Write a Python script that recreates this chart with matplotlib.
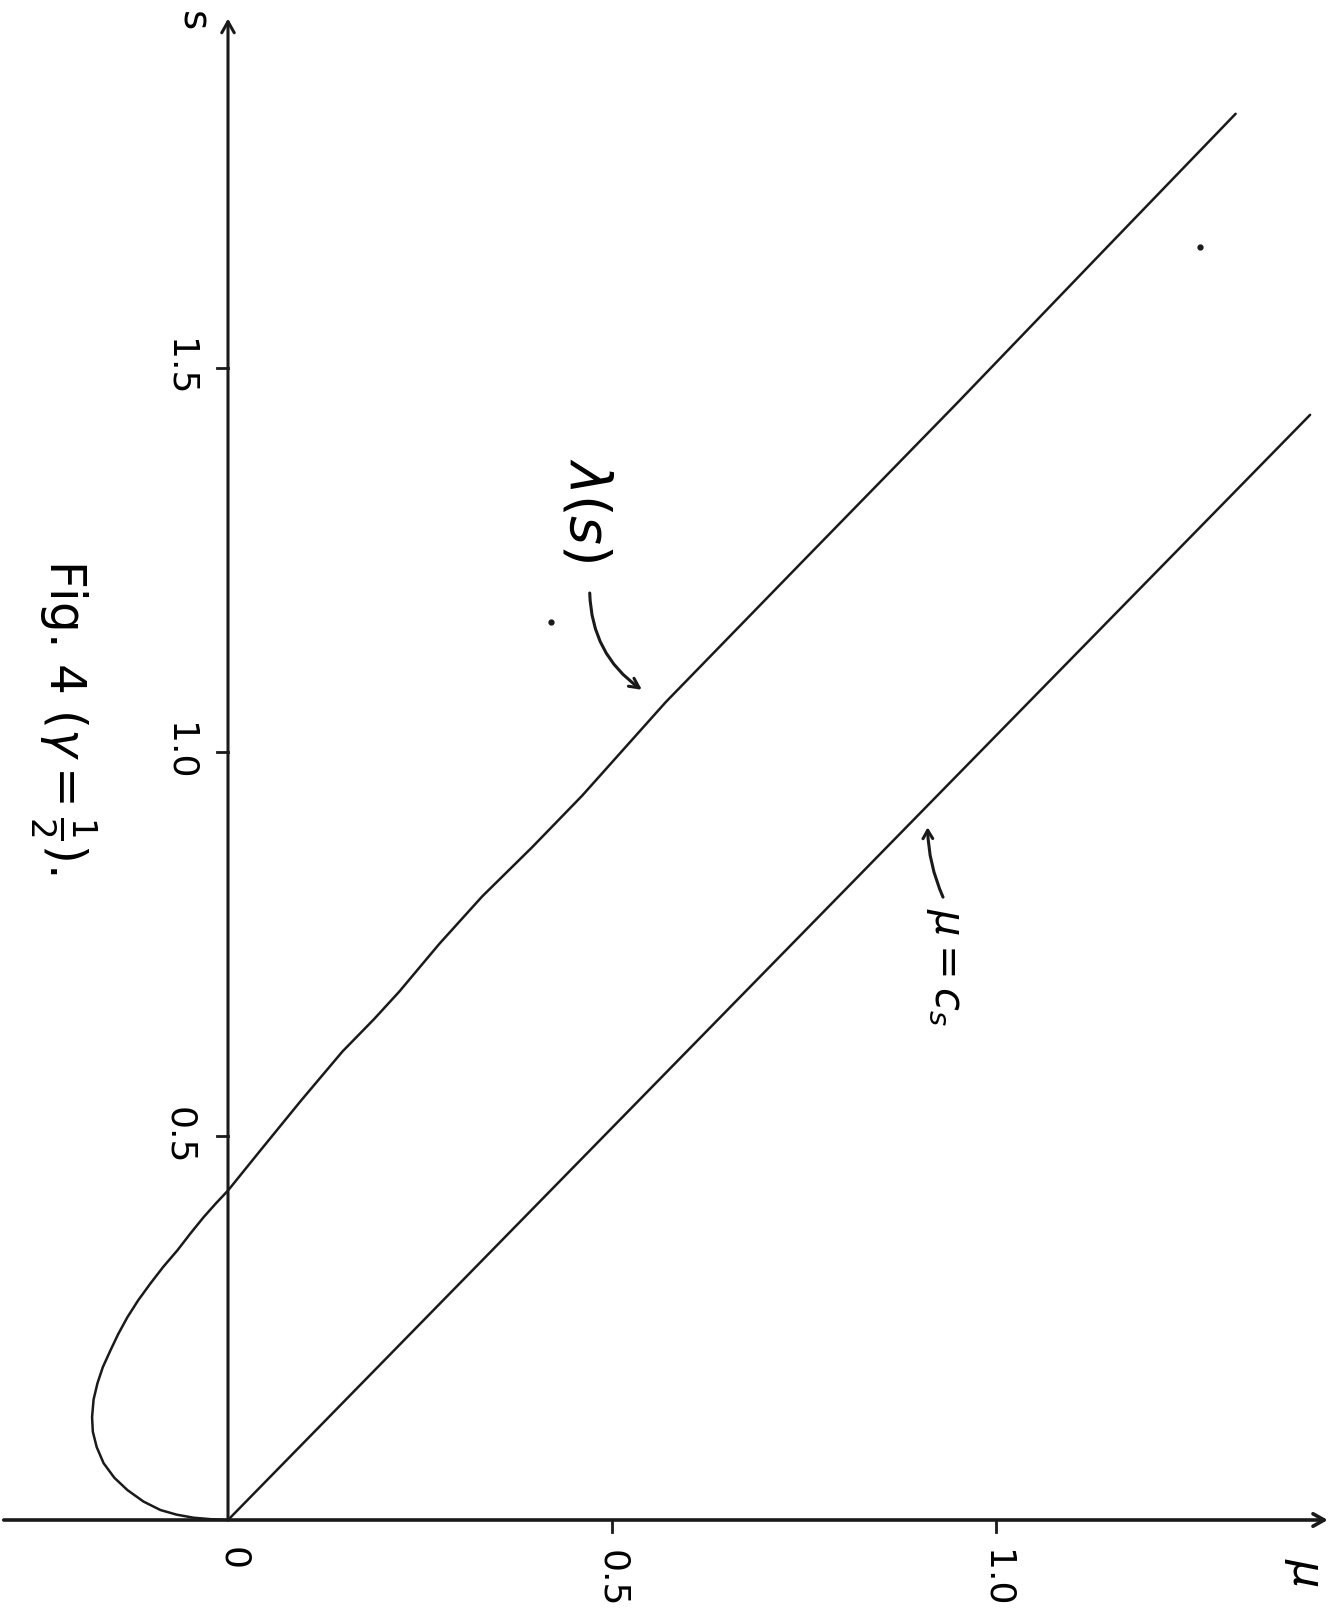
import numpy as np
import matplotlib
matplotlib.use("Agg")
import matplotlib.pyplot as plt

# lambda(s) curve as (mu, s) pairs
lam_mu = [0.0, -0.022, -0.045, -0.067, -0.088, -0.110, -0.131, -0.148, -0.162,
          -0.171, -0.176, -0.177, -0.175, -0.170, -0.163, -0.153, -0.143,
          -0.131, -0.117, -0.101, -0.084, -0.066, -0.049, -0.032, -0.016,
          0.0, 0.042, 0.095, 0.149, 0.190, 0.223, 0.275, 0.331,
          0.396, 0.461, 0.570, 0.75, 0.95, 1.124, 1.312]
lam_s = [0.0, 0.001, 0.003, 0.007, 0.013, 0.024, 0.039, 0.055, 0.074,
         0.095, 0.115, 0.134, 0.157, 0.178, 0.199, 0.221, 0.242,
         0.264, 0.286, 0.308, 0.330, 0.351, 0.373, 0.394, 0.412,
         0.429, 0.481, 0.546, 0.610, 0.652, 0.688, 0.750, 0.812,
         0.876, 0.943, 1.065, 1.250, 1.455, 1.636, 1.831]

# mu = c_s line
cs_mu = [0.0, 1.409]
cs_s = [0.0, 1.439]

mu_ticks = [0.5, 1.0]
s_ticks = [0.5, 1.0, 1.5]
mu_ticklabels = ["0.5", "1.0"]
s_ticklabels = ["0.5", "1.0", "1.5"]

# scanning specks
dots_mu = [1.266, 0.420]
dots_s = [1.658, 1.169]

scale = 768.0  # pixels per unit
W, H = 1337, 1619
ox, oy = 228, 1520

fig = plt.figure(figsize=(W / 100, H / 100), dpi=100)
ax = fig.add_axes([0, 0, 1, 1])
ax.set_xlim(-ox / scale, (W - ox) / scale)
ax.set_ylim(-(H - oy) / scale, oy / scale)
ax.axis("off")

ink = "#1a1a1a"

# axes with open arrow heads
ax.annotate("", xy=(0, 1.955), xytext=(0, 0),
            arrowprops=dict(arrowstyle="->,head_length=0.8,head_width=0.45",
                            lw=2.2, color=ink, shrinkA=0, shrinkB=0))
ax.annotate("", xy=(1.432, 0), xytext=(-0.292, 0),
            arrowprops=dict(arrowstyle="->,head_length=0.8,head_width=0.45",
                            lw=2.6, color=ink, shrinkA=0, shrinkB=0))

# ticks
for t in s_ticks:
    ax.plot([-0.014, 0], [t, t], color=ink, lw=2)
for t in mu_ticks:
    ax.plot([t, t], [0, -0.016], color=ink, lw=2)

ax.plot(lam_mu, lam_s, color=ink, lw=1.8, solid_capstyle="round",
        solid_joinstyle="round")
ax.plot(cs_mu, cs_s, color=ink, lw=1.8, solid_capstyle="round")
ax.plot(dots_mu, dots_s, "o", color=ink, ms=3.5)

fs = 26
for t, lab in zip(mu_ticks, mu_ticklabels):
    ax.text(t, -0.076, lab, rotation=-90, ha="center", va="center", fontsize=fs)
ax.text(0.007, -0.05, "0", rotation=-90, ha="center", va="center", fontsize=fs)
for t, lab in zip(s_ticks, s_ticklabels):
    ax.text(-0.063, t, lab, rotation=-90, ha="center", va="center", fontsize=fs)

ax.text(1.40, -0.068, r"$\mu$", rotation=-90, ha="center", va="center", fontsize=32)
ax.text(-0.047, 1.952, "s", rotation=-90, ha="center", va="center", fontsize=28)

ax.text(-0.215, 1.046, r"Fig. 4 ($\gamma=\frac{1}{2}$).", rotation=-90,
        ha="center", va="center", fontsize=35)

ax.text(0.465, 1.315, r"$\lambda(s)$", rotation=-90, ha="center", va="center",
        fontsize=40)
ax.annotate("", xy=(0.539, 1.081), xytext=(0.471, 1.207),
            arrowprops=dict(arrowstyle="->,head_length=0.7,head_width=0.35",
                            lw=2.2, color=ink, connectionstyle="arc3,rad=0.25",
                            shrinkA=0, shrinkB=0))

ax.text(0.934, 0.72, r"$\mu=c_s$", rotation=-90, ha="center", va="center",
        fontsize=30)
ax.annotate("", xy=(0.911, 0.902), xytext=(0.931, 0.811),
            arrowprops=dict(arrowstyle="->,head_length=0.6,head_width=0.35",
                            lw=2.2, color=ink, connectionstyle="arc3,rad=-0.1",
                            shrinkA=0, shrinkB=0))

fig.savefig("out.png", dpi=100)
